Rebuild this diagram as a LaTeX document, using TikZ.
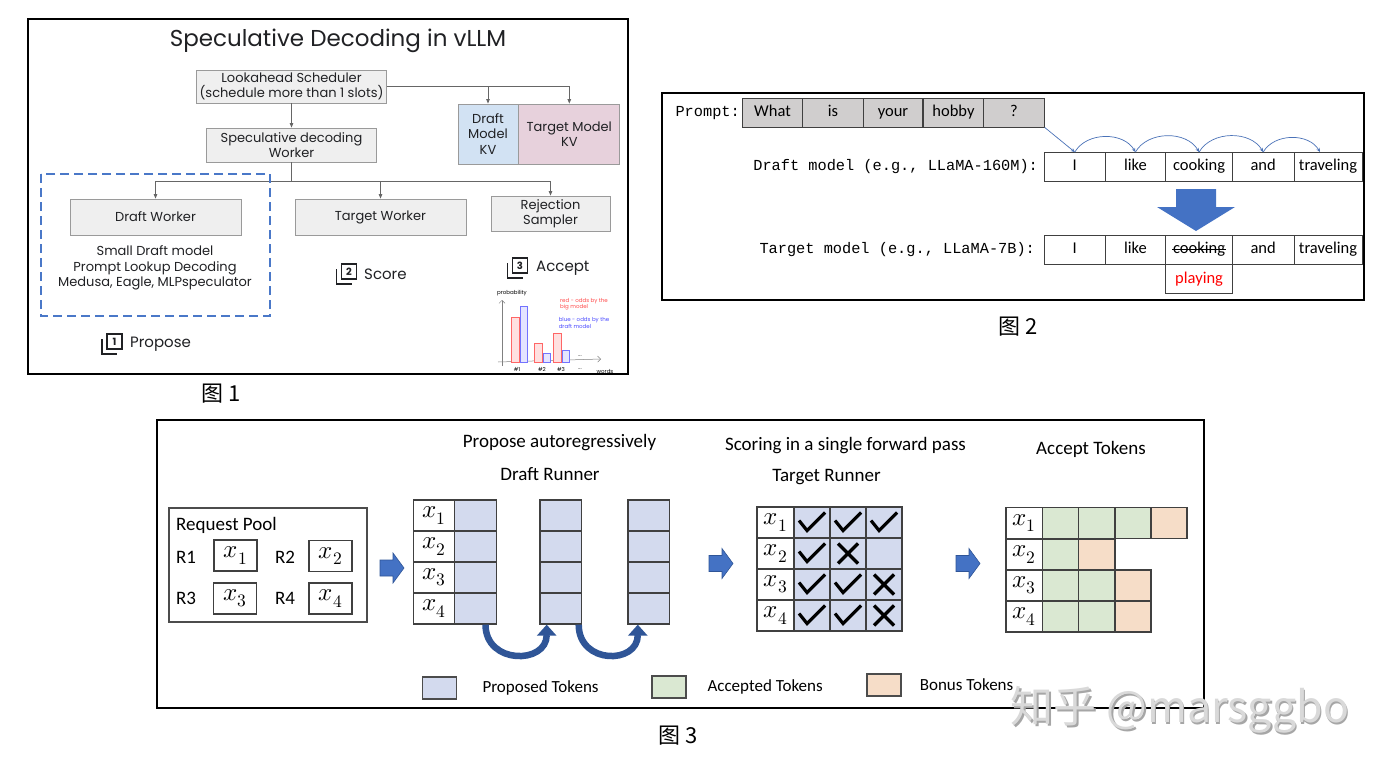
\documentclass[tikz,border=0pt]{standalone}
\usepackage{fontspec}
\usepackage{unicode-math}
\setmainfont{Carlito}
\setmathfont{Latin Modern Math}
\newfontfamily\gsans{Poppins}
\newfontfamily\monofont{Liberation Mono}
\newfontfamily\cjk{Noto Sans CJK SC}
\usepackage{tikz}
\usetikzlibrary{arrows.meta,positioning,calc}
\usepackage{xcolor}
\definecolor{inkblack}{HTML}{202124}
\definecolor{boxgray}{HTML}{EFEFEF}
\definecolor{edgegray}{HTML}{9A9A9A}
\definecolor{kvblue}{HTML}{D2E2F3}
\definecolor{kvpink}{HTML}{E7D1DC}
\definecolor{dashblue}{HTML}{4A78C8}
\definecolor{promptgray}{HTML}{D0CECE}
\definecolor{arcblue}{HTML}{4A72B8}
\definecolor{arrowblue}{HTML}{4472C4}
\definecolor{darkblue}{HTML}{2F5597}
\definecolor{propblue}{HTML}{D3DAEE}
\definecolor{accgreen}{HTML}{DAE8D2}
\definecolor{bonusor}{HTML}{F6DDC8}
\newcommand{\stackicon}[3]{%
  \begin{scope}[shift={#2}, line width=1.7, draw=inkblack]
    \draw (-10,-5) -- (-10,10) -- (5,10);
    \draw (-5,-10) rectangle (10,5);
    \node[font=\gsans\bfseries\fontsize{10}{10}\selectfont, inner sep=0, text=inkblack] (#1) at (2.5,-2.5) {#3};
  \end{scope}}
\newcommand{\blockright}[1]{%
  \filldraw[fill=arrowblue, draw=darkblue, line width=0.6, shift={#1}]
    (0,-8) -- (13,-8) -- (13,-15) -- (24,0) -- (13,15) -- (13,8) -- (0,8) -- cycle;}

\begin{document}
\begin{tikzpicture}[x=1pt, y=-1pt,
  frame/.style={draw=black, line width=2.8},
  gbox/.style={draw=edgegray, fill=#1, line width=0.8, inner sep=2pt, align=center,
               text=inkblack, font=\gsans\fontsize{13}{15.5}\selectfont},
  gbox/.default=boxgray,
  farrow/.style={draw=gray!80!black, line width=0.8, -{Triangle[length=4.5pt,width=3.5pt]}},
  steplabel/.style={anchor=west, inner sep=0, text=inkblack, font=\gsans\fontsize{15}{17}\selectfont},
  tinytext/.style={inner sep=0, align=left, font=\gsans\fontsize{5.5}{6.5}\selectfont},
  monolab/.style={inner sep=0, font=\monofont\fontsize{15.3}{17}\selectfont},
  pcell/.style={draw=gray!50!black, fill=promptgray, line width=0.9, minimum height=29, inner sep=0,
                text height=11, text depth=3.5, font=\fontsize{16.5}{18}\selectfont},
  wcell/.style={draw=gray!50!black, fill=white, line width=0.9, minimum height=29, inner sep=0,
                text height=11, text depth=3.5, font=\fontsize{16.5}{18}\selectfont},
  thinarc/.style={draw=arcblue, line width=0.7, -{Stealth[length=4pt,width=3.5pt]}},
  ttl/.style={inner sep=0, font=\fontsize{19}{22}\selectfont},
  tcell/.style={draw=black!75, line width=1.3, minimum width=41.5, minimum height=31, inner sep=0,
                font=\fontsize{25}{25}\selectfont},
  uarrow/.style={draw=darkblue, line width=6.5, -{Triangle[length=11pt,width=19pt]}},
  lgbox/.style={draw=black!70, line width=1.2, minimum width=34, minimum height=22, inner sep=0},
  lgtext/.style={inner sep=0, font=\fontsize{17}{19}\selectfont},
  cjkcap/.style={inner sep=0, font=\cjk\fontsize{22}{24}\selectfont},
  chk/.pic={\draw[line width=3.2, line join=miter] (-13,-2) -- (-5,8) -- (13,-10);},
  cross/.pic={\draw[line width=3.4] (-10,-10) -- (10,10) (-10,10) -- (10,-10);}
]
\fill[white] (0,0) rectangle (1392,771);
\useasboundingbox (0,0) rectangle (1392,771);

%% ---------------- Figure 1: vLLM overview ----------------
\draw[frame] (28,19) rectangle (628,374);
\node[font=\gsans\fontsize{23}{26}\selectfont, text=inkblack] (title) at (338,41)
  {Speculative Decoding in vLLM};

\node[gbox, minimum width=190, minimum height=33] (sched) at (291.5,86.5)
  {Lookahead Scheduler\\(schedule more than 1 slots)};
\node[gbox, minimum width=170, minimum height=34] (specw) at (291.5,145)
  {Speculative decoding\\Worker};
\node[gbox=kvblue, minimum width=60, minimum height=60, inner sep=0] (kvd) at (488,134)
  {Draft\\Model\\KV};
\node[gbox=kvpink, minimum width=101, minimum height=60, anchor=west] (kvt) at (kvd.east)
  {Target Model\\KV};
\node[gbox, minimum width=171, minimum height=36] (draftw) at (155.5,217) {Draft Worker};
\node[gbox, minimum width=171, minimum height=36] (targw) at (380.5,217) {Target Worker};
\node[gbox, minimum width=119, minimum height=35] (rejs) at (550.5,213.5) {Rejection\\Sampler};

\coordinate (bus) at (291.5,181);
\draw[farrow] (sched.east) -| (kvd.north);
\draw[farrow] (sched.east) -| (kvt.north);
\draw[farrow] (sched) -- (specw);
\draw[draw=gray!80!black, line width=0.8] (specw) -- (bus);
\draw[farrow] (bus) -| (draftw);
\draw[farrow] (bus) -| (targw);
\draw[farrow] (bus) -| (rejs);

%% proposer group
\draw[draw=dashblue, line width=2.6, dash pattern=on 9pt off 5pt] (41,174) rectangle (270,316);
\node[gbox, draw=none, fill=none] (methods) at (155,268)
  {Small Draft model\\Prompt Lookup Decoding\\Medusa, Eagle, MLPspeculator};

\stackicon{icon1}{(112,344)}{1}
\node[steplabel] (propose) at (130,344) {Propose};
\stackicon{icon2}{(346.5,274)}{2}
\node[steplabel] (score) at (364,274) {Score};
\stackicon{icon3}{(517.5,268)}{3}
\node[steplabel] (accept) at (536,268) {Accept};

%% probability sketch
\draw[gray, line width=0.5, -{Straight Barb[length=3pt]}] (502,366) -- (502,300);
\draw[gray, line width=0.5, -{Straight Barb[length=3pt]}] (498,362) -- (601,359);
\foreach \xa/\ha/\hb in {511/317/306, 534/343/353, 553/333/350} {
  \draw[red!60, fill=red!12, line width=0.5] (\xa,362) rectangle (\xa+8,\ha);
  \draw[blue!55, fill=blue!10, line width=0.5] (\xa+9,362) rectangle (\xa+16,\hb);
}
\node[tinytext] (chy) at (512,293) {probability};
\node[tinytext, text=red!70] (chr) at (584,304) {red - odds by the\\big model};
\node[tinytext, text=blue!70] (chb) at (584,323) {blue - odds by the\\draft model};
\node[tinytext] (chw) at (605,371) {words};
\node[tinytext] (chd1) at (580,356) {...};
\node[tinytext] (chd2) at (580,369) {...};
\foreach \t/\x in {1/517, 2/542, 3/561}
  \node[tinytext] (chx\t) at (\x,369) {\#\t};

\node[cjkcap] (cap1) at (221,394) {图 1};

%% ---------------- Figure 2: draft vs target ----------------
\draw[frame] (662,93) rectangle (1364,300);
\node[monolab, anchor=east] (plab) at (740,112.5) {Prompt:};
\foreach \w/\x/\cw [count=\i] in {What/772.5/61, is/833/60.5, your/893/59.5, hobby/953.5/61, ?/1014/60.5}
  \node[pcell, minimum width=\cw] (p\i) at (\x,112.5) {\w};

\foreach \w/\x/\cw [count=\i] in {I/1074.8/60.4, like/1135.4/60.7, cooking/1199.1/66.8, and/1263.2/61.5, traveling/1328/68} {
  \node[wcell, minimum width=\cw] (dw\i) at (\x,167) {\w};
  \node[wcell, minimum width=\cw] (tw\i) at (\x,249.5) {\w};
}
\node[wcell, minimum width=66.8, text=red, anchor=north] (play) at (tw3.south) {playing};
\draw[line width=0.9] ([xshift=7]tw3.west) -- ([xshift=-7]tw3.east);

\node[monolab, left=6pt of dw1] (dlab) {Draft model (e.g., LLaMA-160M):};
\node[monolab, left=9pt of tw1] (tlab) {Target model (e.g., LLaMA-7B):};

\draw[thinarc] (p5.south east) -- (dw1.north);
\draw[thinarc] (dw1.north) to[bend left=60] (dw2.north);
\draw[thinarc] (dw2.north) to[bend left=60] (dw3.north);
\draw[thinarc] (dw3.north) to[bend left=60] (dw4.north);
\draw[thinarc] (dw4.north) to[bend left=60] ([xshift=-8]dw5.north);

\fill[arrowblue] (1176,189) -- (1216,189) -- (1216,207) -- (1235,207) -- (1196,231)
  -- (1157,207) -- (1176,207) -- cycle;

\node[cjkcap] (cap2) at (1018,327) {图 2};

%% ---------------- Figure 3: runners ----------------
\draw[frame] (157,420) rectangle (1204,708);
\node[ttl] (proptitle) at (559.5,443) {Propose autoregressively};
\node[ttl] (drtitle) at (550,474) {Draft Runner};
\node[ttl] (sctitle) at (845.5,446) {Scoring in a single forward pass};
\node[ttl] (trtitle) at (826.5,477) {Target Runner};
\node[ttl] (actitle) at (1091,449) {Accept Tokens};

%% request pool
\node[draw=black!70, line width=1.2, minimum width=198, minimum height=114] (pool) at (268,565) {};
\node[ttl, anchor=west] (pooltitle) at (176,525) {Request Pool};
\foreach \r/\x/\y in {1/186/557, 2/285/557, 3/186/598, 4/285/598}
  \node[ttl] (r\r) at (\x,\y) {R\r};
\foreach \r/\x/\y in {1/235.5/555.5, 2/330.5/556, 3/235/598.5, 4/330.5/598.5}
  \node[tcell, minimum width=43] (q\r) at (\x,\y) {$x_{\r}$};

\blockright{(380,568)}
\blockright{(709,563.5)}
\blockright{(956,563.5)}

%% draft runner
\foreach \i/\y in {1/515.5, 2/546.5, 3/577.5, 4/608.5} {
  \node[tcell] (dx\i) at (434.2,\y) {$x_{\i}$};
  \node[tcell, fill=propblue] (da\i) at (475.5,\y) {};
  \node[tcell, fill=propblue] (db\i) at (560.7,\y) {};
  \node[tcell, fill=propblue] (dc\i) at (648.8,\y) {};
}
\draw[uarrow] ([xshift=10]da4.south) .. controls +(0,40) and +(0,40) .. ([xshift=-14]db4.south);
\draw[uarrow] ([xshift=18]db4.south) .. controls +(0,40) and +(0,40) .. ([xshift=-11]dc4.south);

%% target runner
\foreach \i/\y in {1/522.5, 2/553.5, 3/584.5, 4/615.5} {
  \node[tcell, minimum width=37] (sx\i) at (775.5,\y) {$x_{\i}$};
  \foreach \j/\x in {1/812, 2/848, 3/884}
    \node[tcell, minimum width=36, fill=propblue] (s\i\j) at (\x,\y) {};
}
\foreach \c in {s11, s12, s13, s21, s31, s32, s41, s42}
  \pic at (\c) {chk};
\foreach \c in {s22, s33, s43}
  \pic at (\c) {cross};

%% accepted tokens
\foreach \i/\y/\cells in {1/523/{accgreen,accgreen,accgreen,bonusor},
                          2/554.5/{accgreen,bonusor},
                          3/585.5/{accgreen,accgreen,bonusor},
                          4/616.5/{accgreen,accgreen,bonusor}} {
  \node[tcell, minimum width=36.7] (ax\i) at (1024.4,\y) {$x_{\i}$};
  \foreach \c [count=\j] in \cells
    \node[tcell, minimum width=36.1, fill=\c] (a\i\j) at ({1042.7+(\j-0.5)*36.1},\y) {};
}

%% legend
\node[lgbox, fill=propblue] (lgp) at (439.7,688) {};
\node[lgtext, right=25pt of lgp] (lgptext) {Proposed Tokens};
\node[lgbox, fill=accgreen] (lga) at (669,687) {};
\node[lgtext, right=20.7pt of lga] (lgatext) {Accepted Tokens};
\node[lgbox, fill=bonusor] (lgb) at (884,685) {};
\node[lgtext, right=18pt of lgb] (lgbtext) {Bonus Tokens};

\node[cjkcap] (cap3) at (678,736) {图 3};

%% watermark
\node[font=\cjk\fontsize{43}{45}\selectfont, text=gray!70, inner sep=0] (wmshade) at (1181.5,711.5) {知乎 @marsggbo};
\node[font=\cjk\fontsize{43}{45}\selectfont, text=gray!30, inner sep=0] (wm) at (1180,710) {知乎 @marsggbo};
\end{tikzpicture}
\end{document}
